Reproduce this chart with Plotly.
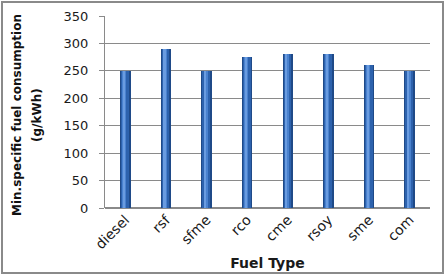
import plotly.graph_objects as go

categories = ["diesel", "rsf", "sfme", "rco", "cme", "rsoy", "sme", "com"]
values = [250, 290, 250, 275, 280, 280, 260, 250]
y_ticks = [0, 50, 100, 150, 200, 250, 300, 350]

W, H = 446, 276
ml, mr, mt, mb = 105, 16, 16, 68
pw, ph = W - ml - mr, H - mt - mb

fig = go.Figure()
# cylinder-like shading via overlaid bars
layers = [(0.26, "#1f4a88", 0), (0.19, "#2d62ad", -0.01), (0.10, "#4a82cf", -0.025), (0.04, "#6a9ce0", -0.03)]
for wd, col, off in layers:
    fig.add_trace(go.Bar(
        x=list(range(len(categories))), y=values, width=wd,
        offset=-wd / 2 + off,
        marker=dict(color=col, line=dict(width=0)),
        hoverinfo="skip", showlegend=False,
    ))

font = "DejaVu Sans, Arial, sans-serif"
fig.update_layout(
    width=W, height=H, margin=dict(l=ml, r=mr, t=mt, b=mb),
    paper_bgcolor="white", plot_bgcolor="white",
    barmode="overlay", bargap=0,
    font=dict(family=font, size=13, color="#1a1a1a"),
    xaxis=dict(
        tickmode="array", tickvals=list(range(len(categories))), ticktext=categories,
        range=[-0.5, len(categories) - 0.5], tickangle=-45, showgrid=False,
        showline=False, ticks="", tickfont=dict(size=14), automargin=False,
        title=dict(text="<b>Fuel Type</b>", font=dict(size=14), standoff=7),
    ),
    yaxis=dict(
        range=[0, 350], tickvals=y_ticks, showgrid=True, gridcolor="#8a8a8a",
        gridwidth=1, zeroline=True, zerolinecolor="#8a8a8a", showline=True,
        linecolor="#8a8a8a", ticks="outside", ticklen=5, tickcolor="#8a8a8a",
        tickfont=dict(size=13), ticklabelstandoff=8, automargin=False,
    ),
    shapes=[dict(
        type="rect", xref="paper", yref="paper",
        x0=(2 - ml) / pw, x1=(443 - ml) / pw,
        y0=(ph + mt - 273) / ph, y1=(ph + mt - 2) / ph,
        line=dict(color="#8a8a8a", width=2), fillcolor="rgba(0,0,0,0)", layer="below",
    )],
    annotations=[
        dict(text="<b>Min.specific fuel consumption</b>", textangle=-90,
             xref="paper", yref="paper", x=(17 - ml) / pw, y=(ph + mt - 115) / ph,
             showarrow=False, font=dict(size=12, color="#111"), xanchor="center", yanchor="middle"),
        dict(text="<b>(g/kWh)</b>", textangle=-90,
             xref="paper", yref="paper", x=(37 - ml) / pw, y=(ph + mt - 115) / ph,
             showarrow=False, font=dict(size=12, color="#111"), xanchor="center", yanchor="middle"),
    ],
)
fig.write_html("out.html")
